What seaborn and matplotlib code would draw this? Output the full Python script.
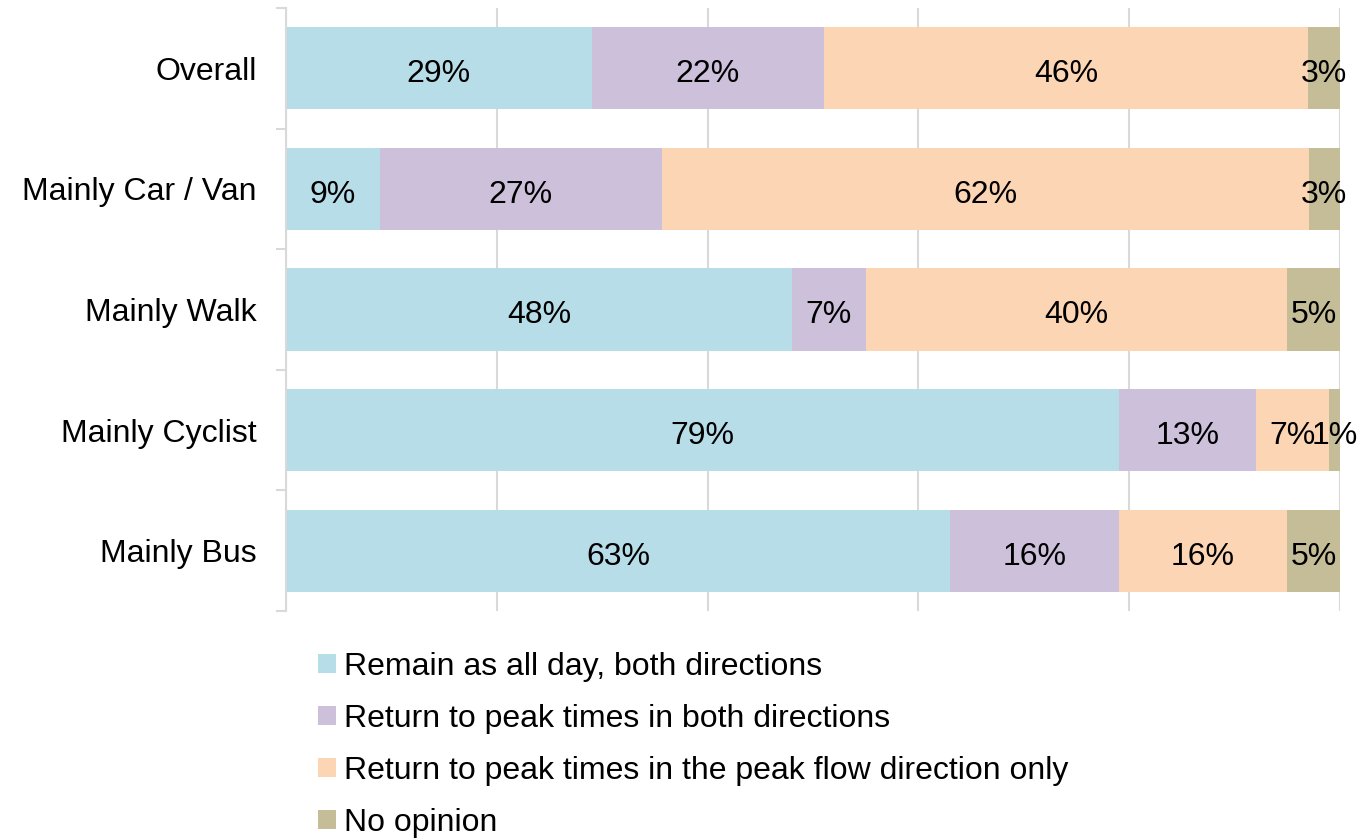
import numpy as np
import pandas as pd
import matplotlib
matplotlib.use("Agg")
import matplotlib.pyplot as plt
from matplotlib.patches import Patch
from matplotlib.ticker import FixedLocator
import seaborn as sns

# Survey responses by main travel mode (percent of respondents)
groups = ["Overall", "Mainly Car / Van", "Mainly Walk", "Mainly Cyclist", "Mainly Bus"]
remain_all_day = [29, 9, 48, 79, 63]
peak_both = [22, 27, 7, 13, 16]
peak_flow_only = [46, 62, 40, 7, 16]
no_opinion = [3, 3, 5, 1, 5]

series_names = [
    "Remain as all day, both directions",
    "Return to peak times in both directions",
    "Return to peak times in the peak flow direction only",
    "No opinion",
]
series_colors = ["#B7DDE8", "#CCC0DA", "#FCD5B5", "#C4BD97"]

sns.set_theme(style="white")
plt.rcParams["font.family"] = ["Liberation Sans", "DejaVu Sans"]
plt.rcParams["text.color"] = "black"

values = np.array([remain_all_day, peak_both, peak_flow_only, no_opinion], dtype=float)
# 100% stacked: each row scaled to its own total
shares = values / values.sum(axis=0) * 100
cum = np.cumsum(shares, axis=0)
starts = cum - shares

fig = plt.figure(figsize=(13.6, 8.4), dpi=100)
ax = fig.add_axes([286 / 1360, 1 - 611 / 840, (1340 - 286) / 1360, (611 - 8) / 840])

# draw from the full stack down so each layer shows its own segment
for i in reversed(range(len(series_names))):
    df = pd.DataFrame({"group": groups, "end": cum[i]})
    sns.barplot(data=df, x="end", y="group", order=groups, color=series_colors[i],
                saturation=1, width=0.68, ax=ax, zorder=2, linewidth=0)

fs = 23
for i in range(len(series_names)):
    for j in range(len(groups)):
        ax.annotate(f"{int(values[i, j])}%", xy=(starts[i, j] + shares[i, j] / 2, j),
                    xytext=(0, -10), textcoords="offset points",
                    ha="center", va="baseline", fontsize=fs, color="black", zorder=5)

ax.set_xlim(0, 100)
ax.set_ylim(len(groups) - 0.5, -0.5)
ax.set_xlabel("")
ax.set_ylabel("")
ax.set_xticks([0, 20, 40, 60, 80, 100])
ax.set_xticklabels([])
ax.tick_params(axis="x", length=0)
ax.xaxis.grid(True, color="#D9D9D9", linewidth=1.5, zorder=0)
ax.set_axisbelow(True)

ax.tick_params(axis="y", which="major", length=0, pad=21, labelsize=fs, labelcolor="black")
ax.yaxis.set_minor_locator(FixedLocator(np.arange(-0.5, len(groups), 1.0)))
ax.tick_params(axis="y", which="minor", length=7.5, width=1.5, color="#D9D9D9", left=True)

for side in ["top", "right", "bottom"]:
    ax.spines[side].set_visible(False)
ax.spines["left"].set_color("#D9D9D9")
ax.spines["left"].set_linewidth(1.5)

handles = [Patch(facecolor=c, edgecolor="none") for c in series_colors]
leg = fig.legend(handles, series_names, loc="upper left", bbox_to_anchor=(318 / 1360, 1 - 652 / 840),
                 frameon=False, fontsize=fs, handlelength=0.55, handleheight=0.55,
                 handletextpad=0.25, labelspacing=0.69, borderpad=0, borderaxespad=0)
for t in leg.get_texts():
    t.set_color("black")

fig.savefig("out.png", dpi=100)
